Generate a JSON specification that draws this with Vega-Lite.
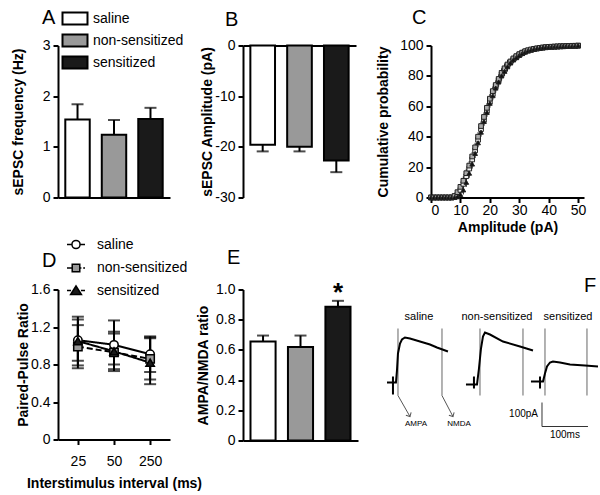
{
  "$schema": "https://vega.github.io/schema/vega-lite/v6.json",
  "background": "white",
  "padding": {"left": 11, "top": 6.5, "right": 0, "bottom": 0},
  "columns": 3,
  "spacing": {"row": 92, "column": 73},
  "bounds": "flush",
  "resolve": {"scale": {"fill": "independent", "shape": "independent", "strokeDash": "independent", "color": "independent"}, "legend": {"fill": "independent", "shape": "independent", "strokeDash": "independent", "color": "independent"}},
  "config": {
    "font": "Liberation Sans",
    "view": {"stroke": null},
    "axis": {"domainColor": "black", "domainWidth": 2, "tickColor": "black", "tickWidth": 2, "tickSize": 5, "labelFontSize": 14, "labelColor": "black", "labelPadding": 3, "titleFontSize": 14, "titleFontWeight": "bold", "titleColor": "black", "grid": false, "labelFont": "Liberation Sans", "titleFont": "Liberation Sans"},
    "title": {"fontSize": 20, "fontWeight": "normal", "anchor": "start", "frame": "group", "color": "black", "font": "Liberation Sans"},
    "legend": {"labelFontSize": 14, "labelColor": "black", "labelFont": "Liberation Sans", "padding": 0}
  },
  "concat": [
    {
      "width": 112, "height": 152,
      "title": {"text": "A", "dx": -16, "dy": 25},
      "data": {"values": [
        {"g": "saline", "v": 1.54, "hi": 1.84},
        {"g": "non-sensitized", "v": 1.24, "hi": 1.53},
        {"g": "sensitized", "v": 1.55, "hi": 1.77}
      ]},
      "encoding": {"x": {"field": "g", "type": "nominal", "sort": null, "scale": {"paddingInner": 0.33, "paddingOuter": 0.2}, "axis": {"labels": false, "ticks": false, "title": null}}},
      "layer": [
        {"mark": {"type": "rule", "color": "black", "strokeWidth": 2},
         "encoding": {"y": {"field": "v", "type": "quantitative", "scale": {"domain": [0, 3]}, "axis": {"values": [0, 1, 2, 3], "title": "sEPSC frequency (Hz)", "titlePadding": 17}}, "y2": {"field": "hi"}}},
        {"mark": {"type": "tick", "orient": "horizontal", "color": "black", "size": 12, "thickness": 2},
         "encoding": {"y": {"field": "hi", "type": "quantitative", "axis": {"values": [0, 1, 2, 3], "title": "sEPSC frequency (Hz)", "titlePadding": 17}}}},
        {"mark": {"type": "bar", "stroke": "black", "strokeWidth": 2},
         "encoding": {
           "y": {"field": "v", "type": "quantitative", "axis": {"values": [0, 1, 2, 3], "title": "sEPSC frequency (Hz)", "titlePadding": 17}},
           "fill": {"field": "g", "type": "nominal", "scale": {"domain": ["saline", "non-sensitized", "sensitized"], "range": ["white", "#999999", "#1a1a1a"]},
             "legend": {"title": null, "orient": "none", "legendX": 5, "legendY": -39, "symbolType": "M-1.163,-0.558H1.163V0.558H-1.163Z", "symbolSize": 462, "symbolStrokeColor": "black", "symbolStrokeWidth": 2, "labelOffset": 6, "rowPadding": 0}}
         }}
      ]
    },
    {
      "width": 113, "height": 152,
      "title": {"text": "B", "dx": -18, "dy": -5},
      "data": {"values": [
        {"g": "saline", "v": -19.6, "lo": -20.9},
        {"g": "non-sensitized", "v": -20.0, "lo": -20.9},
        {"g": "sensitized", "v": -22.7, "lo": -25.0}
      ]},
      "encoding": {"x": {"field": "g", "type": "nominal", "sort": null, "scale": {"paddingInner": 0.33, "paddingOuter": 0.2}, "axis": {"orient": "top", "labels": false, "ticks": false, "title": null}}},
      "layer": [
        {"mark": {"type": "rule", "color": "black", "strokeWidth": 2},
         "encoding": {"y": {"field": "v", "type": "quantitative", "scale": {"domain": [-30, 0]}, "axis": {"values": [-30, -20, -10, 0], "labelExpr": "datum.value == 0 ? '0' : '-' + abs(datum.value)", "title": "sEPSC Amplitude (pA)", "titlePadding": 0}}, "y2": {"field": "lo"}}},
        {"mark": {"type": "tick", "orient": "horizontal", "color": "black", "size": 12, "thickness": 2},
         "encoding": {"y": {"field": "lo", "type": "quantitative", "axis": {"values": [-30, -20, -10, 0], "labelExpr": "datum.value == 0 ? '0' : '-' + abs(datum.value)", "title": "sEPSC Amplitude (pA)", "titlePadding": 0}}}},
        {"mark": {"type": "bar", "stroke": "black", "strokeWidth": 2},
         "encoding": {
           "y": {"field": "v", "type": "quantitative", "axis": {"values": [-30, -20, -10, 0], "labelExpr": "datum.value == 0 ? '0' : '-' + abs(datum.value)", "title": "sEPSC Amplitude (pA)", "titlePadding": 0}},
           "fill": {"field": "g", "type": "nominal", "scale": {"domain": ["saline", "non-sensitized", "sensitized"], "range": ["white", "#999999", "#1a1a1a"]}, "legend": null}
         }}
      ]
    },
    {
      "width": 153, "height": 152,
      "title": {"text": "C", "dx": -19, "dy": -6.5},
      "data": {"values": [
        {"x": 0, "saline": 0, "non-sensitized": 0, "sensitized": 0, "e": 0},
        {"x": 1, "saline": 0, "non-sensitized": 0, "sensitized": 0, "e": 0},
        {"x": 2, "saline": 0, "non-sensitized": 0, "sensitized": 0, "e": 0},
        {"x": 3, "saline": 0, "non-sensitized": 0, "sensitized": 0, "e": 0},
        {"x": 4, "saline": 0, "non-sensitized": 0, "sensitized": 0, "e": 0},
        {"x": 5, "saline": 0, "non-sensitized": 0, "sensitized": 0, "e": 0},
        {"x": 6, "saline": 0, "non-sensitized": 0, "sensitized": 0, "e": 0},
        {"x": 7, "saline": 0, "non-sensitized": 0, "sensitized": 0, "e": 0},
        {"x": 8, "saline": 0.5, "non-sensitized": 1, "sensitized": 0, "e": 0},
        {"x": 9, "saline": 2, "non-sensitized": 3.5, "sensitized": 0.5, "e": 1},
        {"x": 10, "saline": 5, "non-sensitized": 7, "sensitized": 2, "e": 1},
        {"x": 11, "saline": 9, "non-sensitized": 11, "sensitized": 5, "e": 3},
        {"x": 12, "saline": 14, "non-sensitized": 16, "sensitized": 10, "e": 3},
        {"x": 13, "saline": 19, "non-sensitized": 21, "sensitized": 16, "e": 3},
        {"x": 14, "saline": 25, "non-sensitized": 27, "sensitized": 22, "e": 3},
        {"x": 15, "saline": 31, "non-sensitized": 33, "sensitized": 29, "e": 3},
        {"x": 16, "saline": 38, "non-sensitized": 40, "sensitized": 36, "e": 3},
        {"x": 17, "saline": 45, "non-sensitized": 47, "sensitized": 43, "e": 3},
        {"x": 18, "saline": 51, "non-sensitized": 53, "sensitized": 50, "e": 3},
        {"x": 19, "saline": 57, "non-sensitized": 59, "sensitized": 56, "e": 3},
        {"x": 20, "saline": 63, "non-sensitized": 65, "sensitized": 62, "e": 3},
        {"x": 21, "saline": 68, "non-sensitized": 70, "sensitized": 67, "e": 3},
        {"x": 22, "saline": 73, "non-sensitized": 74, "sensitized": 72, "e": 3},
        {"x": 23, "saline": 77, "non-sensitized": 78, "sensitized": 76, "e": 3},
        {"x": 24, "saline": 81, "non-sensitized": 82, "sensitized": 80, "e": 3},
        {"x": 25, "saline": 84, "non-sensitized": 85, "sensitized": 83, "e": 3},
        {"x": 26, "saline": 87, "non-sensitized": 87.5, "sensitized": 86, "e": 3},
        {"x": 27, "saline": 89, "non-sensitized": 89.5, "sensitized": 88.5, "e": 2},
        {"x": 28, "saline": 91, "non-sensitized": 91.5, "sensitized": 90.5, "e": 2},
        {"x": 29, "saline": 92.5, "non-sensitized": 93, "sensitized": 92, "e": 2},
        {"x": 30, "saline": 94, "non-sensitized": 94.3, "sensitized": 93.5, "e": 2},
        {"x": 31, "saline": 95, "non-sensitized": 95.3, "sensitized": 94.7, "e": 2},
        {"x": 32, "saline": 96, "non-sensitized": 96.2, "sensitized": 95.7, "e": 2},
        {"x": 33, "saline": 96.6, "non-sensitized": 96.9, "sensitized": 96.5, "e": 1},
        {"x": 34, "saline": 97.1, "non-sensitized": 97.4, "sensitized": 97.1, "e": 1},
        {"x": 35, "saline": 97.6, "non-sensitized": 97.8, "sensitized": 97.6, "e": 1},
        {"x": 36, "saline": 98, "non-sensitized": 98.1, "sensitized": 98, "e": 1},
        {"x": 37, "saline": 98.3, "non-sensitized": 98.4, "sensitized": 98.3, "e": 1},
        {"x": 38, "saline": 98.6, "non-sensitized": 98.7, "sensitized": 98.6, "e": 1},
        {"x": 39, "saline": 98.8, "non-sensitized": 98.9, "sensitized": 98.8, "e": 1},
        {"x": 40, "saline": 99, "non-sensitized": 99.1, "sensitized": 99, "e": 1},
        {"x": 41, "saline": 99.1, "non-sensitized": 99.2, "sensitized": 99.1, "e": 0.5},
        {"x": 42, "saline": 99.2, "non-sensitized": 99.3, "sensitized": 99.2, "e": 0.5},
        {"x": 43, "saline": 99.3, "non-sensitized": 99.4, "sensitized": 99.3, "e": 0.5},
        {"x": 44, "saline": 99.4, "non-sensitized": 99.5, "sensitized": 99.4, "e": 0.5},
        {"x": 45, "saline": 99.5, "non-sensitized": 99.5, "sensitized": 99.5, "e": 0.5},
        {"x": 46, "saline": 99.6, "non-sensitized": 99.6, "sensitized": 99.6, "e": 0.5},
        {"x": 47, "saline": 99.7, "non-sensitized": 99.7, "sensitized": 99.6, "e": 0.5},
        {"x": 48, "saline": 99.7, "non-sensitized": 99.8, "sensitized": 99.7, "e": 0.5},
        {"x": 49, "saline": 99.8, "non-sensitized": 99.8, "sensitized": 99.8, "e": 0.5},
        {"x": 50, "saline": 99.9, "non-sensitized": 99.9, "sensitized": 99.9, "e": 0.5}
      ]},
      "transform": [{"fold": ["saline", "non-sensitized", "sensitized"], "as": ["g", "y"]}],
      "encoding": {
        "x": {"field": "x", "type": "quantitative", "scale": {"domain": [0, 52], "nice": false}, "axis": {"values": [0, 10, 20, 30, 40, 50], "title": "Amplitude (pA)", "labelPadding": 1, "titlePadding": 3}}
      },
      "layer": [
        {"mark": {"type": "errorbar", "color": "#222222", "thickness": 1},
         "encoding": {"y": {"field": "y", "type": "quantitative", "scale": {"domain": [0, 100], "nice": false}, "axis": {"values": [0, 20, 40, 60, 80, 100], "title": "Cumulative probability", "titlePadding": 9}}, "yError": {"field": "e"}}},
        {"mark": {"type": "point", "size": 22, "stroke": "#222222", "strokeWidth": 1, "opacity": 1},
         "encoding": {
           "y": {"field": "y", "type": "quantitative", "axis": {"values": [0, 20, 40, 60, 80, 100], "title": "Cumulative probability", "titlePadding": 9}},
           "shape": {"field": "g", "type": "nominal", "scale": {"domain": ["saline", "non-sensitized", "sensitized"], "range": ["square", "square", "triangle-up"]}, "legend": null},
           "fill": {"field": "g", "type": "nominal", "scale": {"domain": ["saline", "non-sensitized", "sensitized"], "range": ["#eeeeee", "#aaaaaa", "#111111"]}, "legend": null}
         }}
      ]
    },
    {
      "width": 112, "height": 150,
      "title": {"text": "D", "dx": -16, "dy": 40.5},
      "data": {"values": [
        {"g": "saline", "isi": "25", "m": 1.06, "lo": 0.84, "hi": 1.28},
        {"g": "saline", "isi": "50", "m": 1.01, "lo": 0.75, "hi": 1.27},
        {"g": "saline", "isi": "250", "m": 0.91, "lo": 0.72, "hi": 1.10},
        {"g": "non-sensitized", "isi": "25", "m": 0.99, "lo": 0.76, "hi": 1.22},
        {"g": "non-sensitized", "isi": "50", "m": 0.93, "lo": 0.73, "hi": 1.13},
        {"g": "non-sensitized", "isi": "250", "m": 0.86, "lo": 0.64, "hi": 1.08},
        {"g": "sensitized", "isi": "25", "m": 1.05, "lo": 0.79, "hi": 1.31},
        {"g": "sensitized", "isi": "50", "m": 0.94, "lo": 0.80, "hi": 1.15},
        {"g": "sensitized", "isi": "250", "m": 0.82, "lo": 0.59, "hi": 1.09}
      ]},
      "encoding": {
        "x": {"field": "isi", "type": "ordinal", "sort": ["25", "50", "250"], "scale": {"type": "point", "padding": 0.55}, "axis": {"labelAngle": 0, "title": "Interstimulus interval (ms)", "labelPadding": 10, "titlePadding": 8}}
      },
      "layer": [
        {"mark": {"type": "line", "color": "black", "strokeWidth": 2},
         "encoding": {
           "y": {"field": "m", "type": "quantitative", "scale": {"domain": [0, 1.6]}, "axis": {"values": [0, 0.4, 0.8, 1.2, 1.6], "labelExpr": "datum.value == 0 ? '0' : format(datum.value, '.1f')", "title": "Paired-Pulse Ratio", "titlePadding": 0}},
           "strokeDash": {"field": "g", "type": "nominal", "scale": {"domain": ["saline", "non-sensitized", "sensitized"], "range": [[1, 0], [6, 3], [1, 0]]}, "legend": null}
         }},
        {"mark": {"type": "errorbar", "color": "black", "thickness": 2, "ticks": {"size": 12, "thickness": 2, "color": "black"}},
         "encoding": {
           "y": {"field": "lo", "type": "quantitative", "axis": {"values": [0, 0.4, 0.8, 1.2, 1.6], "labelExpr": "datum.value == 0 ? '0' : format(datum.value, '.1f')", "title": "Paired-Pulse Ratio", "titlePadding": 0}},
           "y2": {"field": "hi"}
         }},
        {"mark": {"type": "point", "size": 70, "stroke": "black", "strokeWidth": 1.5, "opacity": 1},
         "encoding": {
           "y": {"field": "m", "type": "quantitative", "axis": {"values": [0, 0.4, 0.8, 1.2, 1.6], "labelExpr": "datum.value == 0 ? '0' : format(datum.value, '.1f')", "title": "Paired-Pulse Ratio", "titlePadding": 0}},
           "shape": {"field": "g", "type": "nominal", "scale": {"domain": ["saline", "non-sensitized", "sensitized"], "range": ["circle", "square", "triangle-up"]}, "legend": null},
           "fill": {"field": "g", "type": "nominal", "scale": {"domain": ["saline", "non-sensitized", "sensitized"], "range": ["white", "#999999", "#1a1a1a"]}, "legend": null}
         }},
        {"mark": {"type": "point", "size": 10, "opacity": 0, "filled": true},
         "encoding": {
           "y": {"field": "m", "type": "quantitative", "axis": {"values": [0, 0.4, 0.8, 1.2, 1.6], "labelExpr": "datum.value == 0 ? '0' : format(datum.value, '.1f')", "title": "Paired-Pulse Ratio", "titlePadding": 0}},
           "shape": {"field": "g", "type": "nominal", "scale": {"domain": ["saline", "non-sensitized", "sensitized"], "range": ["M-1,0H-0.45M0.45,0H1M-0.45,0A0.45,0.45,0,1,1,0.45,0A0.45,0.45,0,1,1,-0.45,0Z", "M-1,0H-0.42M0.42,0H0.6M0.8,0H1M-0.42,-0.42H0.42V0.42H-0.42Z", "M-1,0H-0.55M0.55,0H1M0,-0.5L0.6,0.45H-0.6Z"]},
             "legend": {"title": null, "orient": "none", "legendX": 8, "legendY": -55, "symbolSize": 324, "labelOffset": 11, "rowPadding": 5.5, "encode": {"symbols": {"update": {"stroke": {"value": "black"}, "strokeWidth": {"value": 1.5}, "opacity": {"value": 1}, "strokeOpacity": {"value": 1}, "fillOpacity": {"value": 1}}}}}},
           "color": {"field": "g", "type": "nominal", "scale": {"domain": ["saline", "non-sensitized", "sensitized"], "range": ["white", "#999999", "#1a1a1a"]},
             "legend": {"title": null, "orient": "none", "legendX": 8, "legendY": -55, "symbolSize": 324, "labelOffset": 11, "rowPadding": 5.5, "encode": {"symbols": {"update": {"stroke": {"value": "black"}, "strokeWidth": {"value": 1.5}, "opacity": {"value": 1}, "strokeOpacity": {"value": 1}, "fillOpacity": {"value": 1}}}}}}
         }}
      ],
      "resolve": {"scale": {"shape": "independent", "fill": "independent", "color": "independent"}}
    },
    {
      "width": 115, "height": 151,
      "title": {"text": "E", "dx": -16, "dy": -8},
      "data": {"values": [
        {"g": "saline", "v": 0.655, "hi": 0.695},
        {"g": "non-sensitized", "v": 0.62, "hi": 0.695},
        {"g": "sensitized", "v": 0.885, "hi": 0.925, "sig": "*"}
      ]},
      "encoding": {"x": {"field": "g", "type": "nominal", "sort": null, "scale": {"paddingInner": 0.33, "paddingOuter": 0.2}, "axis": {"labels": false, "ticks": false, "title": null}}},
      "layer": [
        {"mark": {"type": "rule", "color": "black", "strokeWidth": 2},
         "encoding": {"y": {"field": "v", "type": "quantitative", "scale": {"domain": [0, 1]}, "axis": {"values": [0, 0.2, 0.4, 0.6, 0.8, 1], "labelExpr": "datum.value == 0 ? '0' : format(datum.value, '.1f')", "title": "AMPA/NMDA ratio", "titlePadding": 5}}, "y2": {"field": "hi"}}},
        {"mark": {"type": "tick", "orient": "horizontal", "color": "black", "size": 12, "thickness": 2},
         "encoding": {"y": {"field": "hi", "type": "quantitative", "axis": {"values": [0, 0.2, 0.4, 0.6, 0.8, 1], "labelExpr": "datum.value == 0 ? '0' : format(datum.value, '.1f')", "title": "AMPA/NMDA ratio", "titlePadding": 5}}}},
        {"mark": {"type": "bar", "stroke": "black", "strokeWidth": 2},
         "encoding": {
           "y": {"field": "v", "type": "quantitative", "axis": {"values": [0, 0.2, 0.4, 0.6, 0.8, 1], "labelExpr": "datum.value == 0 ? '0' : format(datum.value, '.1f')", "title": "AMPA/NMDA ratio", "titlePadding": 5}},
           "fill": {"field": "g", "type": "nominal", "scale": {"domain": ["saline", "non-sensitized", "sensitized"], "range": ["white", "#999999", "#1a1a1a"]}, "legend": null}
         }},
        {"transform": [{"filter": "isValid(datum.sig)"}],
         "mark": {"type": "text", "fontSize": 26, "fontWeight": "bold", "baseline": "alphabetic", "dy": 0, "color": "black"},
         "encoding": {"y": {"field": "hi", "type": "quantitative", "axis": {"values": [0, 0.2, 0.4, 0.6, 0.8, 1], "labelExpr": "datum.value == 0 ? '0' : format(datum.value, '.1f')", "title": "AMPA/NMDA ratio", "titlePadding": 5}}, "text": {"field": "sig"}}}
      ]
    },
    {
      "width": 164, "height": 151,
      "title": {"text": "F", "dx": 153, "dy": 10},
      "layer": [
        {"data": {"values": [{"t": 38.1}, {"t": 133.9}, {"t": 216.6}, {"t": 310.2}, {"t": 358.1}, {"t": 449.5}]},
         "mark": {"type": "rule", "color": "#999999", "strokeWidth": 1.5},
         "encoding": {
           "x": {"field": "t", "type": "quantitative", "scale": {"domain": [110, 467], "nice": false, "zero": false}, "axis": null},
           "y": {"datum": 187.7, "type": "quantitative", "scale": {"domain": [0, 630], "nice": false, "zero": false}, "axis": null},
           "y2": {"datum": 467.3}
         }},
        {"data": {"values": [
           {"g": "saline", "k": 1, "t": 14.2, "i": 242.0}, {"g": "saline", "k": 2, "t": 27.2, "i": 242.0}, {"g": "saline", "k": 3, "t": 27.2, "i": 267.0}, {"g": "saline", "k": 4, "t": 27.2, "i": 191.9}, {"g": "saline", "k": 5, "t": 27.2, "i": 242.0}, {"g": "saline", "k": 6, "t": 33.7, "i": 242.0}, {"g": "saline", "k": 7, "t": 35.9, "i": 292.0}, {"g": "saline", "k": 8, "t": 38.1, "i": 363.0}, {"g": "saline", "k": 9, "t": 42.5, "i": 404.7}, {"g": "saline", "k": 10, "t": 46.8, "i": 421.4}, {"g": "saline", "k": 11, "t": 53.3, "i": 429.7}, {"g": "saline", "k": 12, "t": 64.2, "i": 425.5}, {"g": "saline", "k": 13, "t": 86.0, "i": 413.0}, {"g": "saline", "k": 14, "t": 107.8, "i": 400.5}, {"g": "saline", "k": 15, "t": 123.0, "i": 388.0}, {"g": "saline", "k": 16, "t": 146.9, "i": 371.3},
           {"g": "non-sensitized", "k": 1, "t": 186.1, "i": 233.6}, {"g": "non-sensitized", "k": 2, "t": 203.5, "i": 233.6}, {"g": "non-sensitized", "k": 3, "t": 203.5, "i": 267.0}, {"g": "non-sensitized", "k": 4, "t": 203.5, "i": 216.9}, {"g": "non-sensitized", "k": 5, "t": 203.5, "i": 233.6}, {"g": "non-sensitized", "k": 6, "t": 210.1, "i": 233.6}, {"g": "non-sensitized", "k": 7, "t": 214.4, "i": 300.4}, {"g": "non-sensitized", "k": 8, "t": 218.8, "i": 383.8}, {"g": "non-sensitized", "k": 9, "t": 223.1, "i": 433.9}, {"g": "non-sensitized", "k": 10, "t": 227.5, "i": 450.6}, {"g": "non-sensitized", "k": 11, "t": 238.4, "i": 442.2}, {"g": "non-sensitized", "k": 12, "t": 266.7, "i": 413.0}, {"g": "non-sensitized", "k": 13, "t": 303.7, "i": 392.2}, {"g": "non-sensitized", "k": 14, "t": 332.0, "i": 375.5},
           {"g": "sensitized", "k": 1, "t": 327.6, "i": 246.1}, {"g": "sensitized", "k": 2, "t": 347.3, "i": 246.1}, {"g": "sensitized", "k": 3, "t": 347.3, "i": 267.0}, {"g": "sensitized", "k": 4, "t": 347.3, "i": 216.9}, {"g": "sensitized", "k": 5, "t": 347.3, "i": 246.1}, {"g": "sensitized", "k": 6, "t": 353.8, "i": 246.1}, {"g": "sensitized", "k": 7, "t": 358.1, "i": 279.5}, {"g": "sensitized", "k": 8, "t": 362.5, "i": 308.7}, {"g": "sensitized", "k": 9, "t": 369.0, "i": 325.4}, {"g": "sensitized", "k": 10, "t": 375.5, "i": 329.6}, {"g": "sensitized", "k": 11, "t": 390.8, "i": 325.4}, {"g": "sensitized", "k": 12, "t": 412.6, "i": 317.1}, {"g": "sensitized", "k": 13, "t": 445.2, "i": 312.9}, {"g": "sensitized", "k": 14, "t": 473.5, "i": 308.7}
         ]},
         "mark": {"type": "line", "color": "black", "strokeWidth": 2},
         "encoding": {
           "x": {"field": "t", "type": "quantitative", "scale": {"domain": [110, 467], "nice": false, "zero": false}, "axis": null},
           "y": {"field": "i", "type": "quantitative", "scale": {"domain": [0, 630], "nice": false, "zero": false}, "axis": null},
           "detail": {"field": "g"},
           "order": {"field": "k", "type": "quantitative"}
         }},
        {"data": {"values": [
           {"a": "AMPA", "k": 1, "t": 38.1, "i": 187.7}, {"a": "AMPA", "k": 2, "t": 64.2, "i": 100.1},
           {"a": "NMDA", "k": 1, "t": 133.9, "i": 187.7}, {"a": "NMDA", "k": 2, "t": 157.8, "i": 100.1}
         ]},
         "mark": {"type": "line", "color": "#555555", "strokeWidth": 1},
         "encoding": {
           "x": {"field": "t", "type": "quantitative", "scale": {"domain": [110, 467], "nice": false, "zero": false}, "axis": null},
           "y": {"field": "i", "type": "quantitative", "scale": {"domain": [0, 630], "nice": false, "zero": false}, "axis": null},
           "detail": {"field": "a"},
           "order": {"field": "k", "type": "quantitative"}
         }},
        {"data": {"values": [{"t": 64.2, "i": 100.1}, {"t": 157.8, "i": 100.1}]},
         "mark": {"type": "point", "shape": "M-1,-1L0,0L1,-1", "size": 36, "angle": -29, "stroke": "#555555", "strokeWidth": 1, "filled": false, "opacity": 1},
         "encoding": {
           "x": {"field": "t", "type": "quantitative", "scale": {"domain": [110, 467], "nice": false, "zero": false}, "axis": null},
           "y": {"field": "i", "type": "quantitative", "scale": {"domain": [0, 630], "nice": false, "zero": false}, "axis": null}
         }},
        {"data": {"values": [{"t": 351.6, "i": 158.5, "t2": 351.6, "i2": 58.4}, {"t": 351.6, "i": 58.4, "t2": 451.7, "i2": 58.4}]},
         "mark": {"type": "rule", "color": "#333333", "strokeWidth": 1},
         "encoding": {
           "x": {"field": "t", "type": "quantitative", "scale": {"domain": [110, 467], "nice": false, "zero": false}, "axis": null},
           "y": {"field": "i", "type": "quantitative", "scale": {"domain": [0, 630], "nice": false, "zero": false}, "axis": null},
           "x2": {"field": "t2"},
           "y2": {"field": "i2"}
         }},
        {"data": {"values": [{"t": 83.8, "i": 517.3, "txt": "saline"}, {"t": 253.6, "i": 517.3, "txt": "non-sensitized"}, {"t": 408.2, "i": 517.3, "txt": "sensitized"}]},
         "mark": {"type": "text", "fontSize": 11, "color": "black", "align": "center", "baseline": "middle"},
         "encoding": {
           "x": {"field": "t", "type": "quantitative", "scale": {"domain": [110, 467], "nice": false, "zero": false}, "axis": null},
           "y": {"field": "i", "type": "quantitative", "scale": {"domain": [0, 630], "nice": false, "zero": false}, "axis": null},
           "text": {"field": "txt"}
         }},
        {"data": {"values": [{"t": 77.3, "i": 66.8, "txt": "AMPA"}, {"t": 170.9, "i": 66.8, "txt": "NMDA"}]},
         "mark": {"type": "text", "fontSize": 8, "color": "black", "align": "center", "baseline": "middle"},
         "encoding": {
           "x": {"field": "t", "type": "quantitative", "scale": {"domain": [110, 467], "nice": false, "zero": false}, "axis": null},
           "y": {"field": "i", "type": "quantitative", "scale": {"domain": [0, 630], "nice": false, "zero": false}, "axis": null},
           "text": {"field": "txt"}
         }},
        {"data": {"values": [{"t": 342.9, "i": 112.6, "txt": "100pA"}]},
         "mark": {"type": "text", "fontSize": 10, "color": "black", "align": "right", "baseline": "middle"},
         "encoding": {
           "x": {"field": "t", "type": "quantitative", "scale": {"domain": [110, 467], "nice": false, "zero": false}, "axis": null},
           "y": {"field": "i", "type": "quantitative", "scale": {"domain": [0, 630], "nice": false, "zero": false}, "axis": null},
           "text": {"field": "txt"}
         }},
        {"data": {"values": [{"t": 401.5, "i": 25.0, "txt": "100ms"}]},
         "mark": {"type": "text", "fontSize": 10, "color": "black", "align": "center", "baseline": "middle"},
         "encoding": {
           "x": {"field": "t", "type": "quantitative", "scale": {"domain": [110, 467], "nice": false, "zero": false}, "axis": null},
           "y": {"field": "i", "type": "quantitative", "scale": {"domain": [0, 630], "nice": false, "zero": false}, "axis": null},
           "text": {"field": "txt"}
         }}
      ]
    }
  ]
}
